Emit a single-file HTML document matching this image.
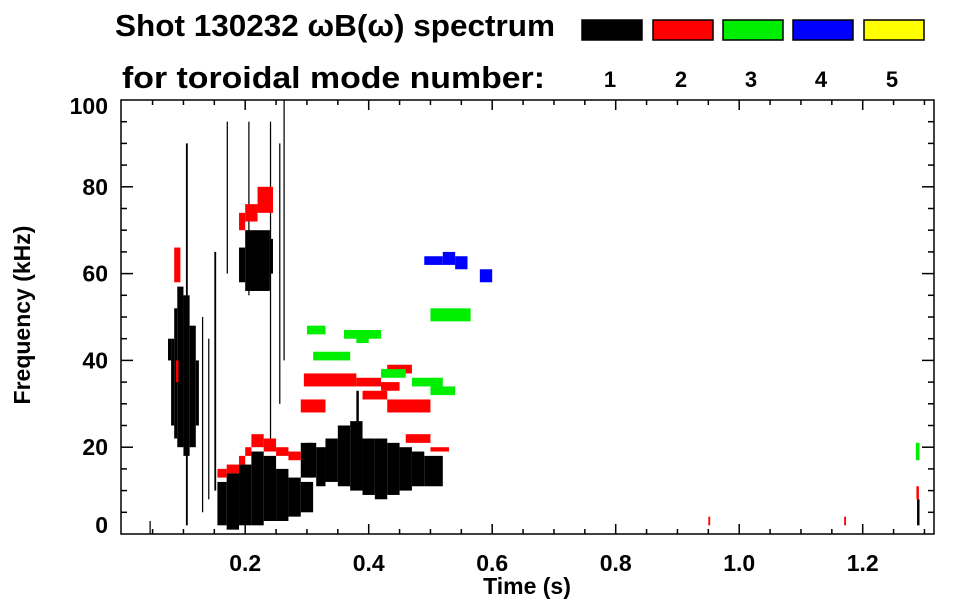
<!DOCTYPE html>
<html><head><meta charset="utf-8"><style>
body{margin:0;background:#fff;}
svg{display:block;font-family:"Liberation Sans",sans-serif;font-weight:bold;}
</style></head><body>
<svg id="chart" width="963" height="615" viewBox="0 0 963 615">
<g id="title">
<text x="115" y="36" font-size="31" textLength="440" lengthAdjust="spacingAndGlyphs">Shot 130232 ωB(ω) spectrum</text>
<text x="122" y="88" font-size="31" textLength="423" lengthAdjust="spacingAndGlyphs">for toroidal mode number:</text>
</g>
<g id="legend"></g>
<g id="marks"></g>
<g id="axes"></g>
</svg>
<script>
// Legend
const modeNumbers = ["1","2","3","4","5"];
const modeColors = ["#000000","#ff0000","#00ee00","#0000ff","#ffff00"];
// X axis
const xMajorTicks = [0.2,0.4,0.6,0.8,1.0,1.2];
const xTickLabels = ["0.2","0.4","0.6","0.8","1.0","1.2"];
// Y axis
const yMajorTicks = [0,20,40,60,80,100];
const yTickLabels = ["0","20","40","60","80","100"];
// Mode 1 stripes (time start s, time end s, freq low kHz, freq high kHz)
const m1T0 = [0.075,0.080,0.085,0.090,0.100,0.110,0.120,0.104,0.130,0.140,0.150,0.155,0.170,0.190,0.210,0.230,0.250,0.270,0.290,0.290,0.190,0.200,0.240,0.300,0.315,0.330,0.350,0.370,0.390,0.410,0.430,0.450,0.470,0.490,0.240,0.255,0.262,0.205,0.380,0.170,1.288,0.045];
const m1T1 = [0.080,0.085,0.090,0.100,0.110,0.120,0.125,0.107,0.132,0.142,0.153,0.170,0.190,0.210,0.230,0.250,0.270,0.290,0.310,0.310,0.200,0.240,0.245,0.315,0.330,0.350,0.370,0.390,0.410,0.430,0.450,0.470,0.490,0.520,0.242,0.257,0.264,0.207,0.384,0.172,1.292,0.047];
const m1Lo = [40,25,22,20,18,20,25,2,5,8,10,2,1,2,2,3,3,4,5,13,58,56,60,13,11,12,11,10,9,8,9,10,11,11,20,30,40,55,25,60,2,0];
const m1Hi = [45,45,52,57,55,48,40,90,50,45,65,12,14,16,19,18,15,13,12,21,66,70,68,21,20,22,25,26,22,22,21,20,19,18,95,90,100,95,33,95,8,3];
// Mode 2 stripes
const m2T0 = [0.085,0.088,0.155,0.170,0.190,0.200,0.210,0.230,0.250,0.270,0.190,0.200,0.220,0.290,0.295,0.380,0.420,0.430,0.390,0.430,0.460,0.500,1.287,0.950,1.170];
const m2T1 = [0.095,0.092,0.170,0.190,0.200,0.210,0.230,0.250,0.270,0.290,0.200,0.220,0.245,0.330,0.380,0.420,0.450,0.470,0.430,0.500,0.500,0.530,1.291,0.953,1.173];
const m2Lo = [58,35,13,14,16,18,20,19,18,17,70,72,74,28,34,34,33,37,31,28,21,19,8,2,2];
const m2Hi = [66,40,15,16,18,20,23,22,20,19,74,76,80,31,37,36,35,39,33,31,23,20,11,4,4];
// Mode 3 stripes
const m3T0 = [0.300,0.310,0.380,0.360,0.500,0.470,0.500,0.420,1.286];
const m3T1 = [0.330,0.370,0.400,0.420,0.565,0.520,0.540,0.460,1.292];
const m3Lo = [46,40,44,45,49,34,32,36,17];
const m3Hi = [48,42,46,47,52,36,34,38,21];
// Mode 4 stripes
const m4T0 = [0.490,0.520,0.540,0.580];
const m4T1 = [0.520,0.540,0.560,0.600];
const m4Lo = [62,62,61,58];
const m4Hi = [64,65,64,61];

const NS = "http://www.w3.org/2000/svg";
const L = 121, R = 934, T = 100, B = 534;
const xs = t => 121.7 + t * 617.5;
const ys = f => B - f * (B - T) / 100;
const svg = document.getElementById('chart');
function mk(tag, attrs, parent) {
  const e = document.createElementNS(NS, tag);
  for (const k in attrs) e.setAttribute(k, attrs[k]);
  parent.appendChild(e);
  return e;
}
// legend
const lg = document.getElementById('legend');
const boxX = [582,653,723,793,864];
modeNumbers.forEach((m, i) => {
  const r = mk('rect', {x: boxX[i], y: 20, width: 60, height: 20, fill: modeColors[i], stroke: '#000', 'stroke-width': 1.5}, lg);
  
  
  const t = mk('text', {x: boxX[i] + 28, y: 87, 'font-size': 22, 'text-anchor': 'middle'}, lg);
  t.textContent = m;
  
  
});
// marks
const marks = document.getElementById('marks');
function drawSeries(t0, t1, lo, hi, color, name) {
  for (let i = 0; i < t0.length; i++) {
    const x0 = xs(t0[i]), x1 = xs(t1[i]);
    const r = mk('rect', {x: x0, y: ys(hi[i]), width: Math.max(1.2, x1 - x0), height: Math.max(1.5, ys(lo[i]) - ys(hi[i])), fill: color}, marks);
    
    
  }
}
drawSeries(m1T0, m1T1, m1Lo, m1Hi, '#000', 'mode-1');
drawSeries(m2T0, m2T1, m2Lo, m2Hi, '#ff0000', 'mode-2');
drawSeries(m3T0, m3T1, m3Lo, m3Hi, '#00ee00', 'mode-3');
drawSeries(m4T0, m4T1, m4Lo, m4Hi, '#0000ff', 'mode-4');
// axes
const ax = document.getElementById('axes');
const frame = mk('rect', {x: L, y: T, width: R - L, height: B - T, fill: 'none', stroke: '#000', 'stroke-width': 1.5}, ax);


for (let k = 1; k <= 26; k++) {
  const t = k * 0.05, x = xs(t);
  if (x > R) break;
  const len = (k % 4 === 0) ? 10 : 5;
  mk('line', {x1: x, y1: B, x2: x, y2: B - len, stroke: '#000', 'stroke-width': 1.5}, ax);
  mk('line', {x1: x, y1: T, x2: x, y2: T + len, stroke: '#000', 'stroke-width': 1.5}, ax);
}
for (let k = 1; k < 20; k++) {
  const y = ys(k * 5), len = (k % 4 === 0) ? 12 : 6;
  mk('line', {x1: L, y1: y, x2: L + len, y2: y, stroke: '#000', 'stroke-width': 1.5}, ax);
  mk('line', {x1: R, y1: y, x2: R - len, y2: y, stroke: '#000', 'stroke-width': 1.5}, ax);
}
xMajorTicks.forEach((t, i) => {
  const e = mk('text', {x: xs(t), y: 571, 'font-size': 23, 'text-anchor': 'middle'}, ax);
  e.textContent = xTickLabels[i];
  
  
});
yMajorTicks.forEach((f, i) => {
  let y = ys(f);
  if (f === 0) y = 525; if (f === 100) y = 106;
  const e = mk('text', {x: 108, y: y + 8, 'font-size': 23, 'text-anchor': 'end'}, ax);
  e.textContent = yTickLabels[i];
  
  
});
const xt = mk('text', {x: 527, y: 594, 'font-size': 23, 'text-anchor': 'middle'}, ax);
xt.textContent = 'Time (s)';


const yt = mk('text', {x: 0, y: 0, 'font-size': 23, 'text-anchor': 'middle', transform: 'translate(30,315) rotate(-90)'}, ax);
yt.textContent = 'Frequency (kHz)';


</script>
</body></html>
